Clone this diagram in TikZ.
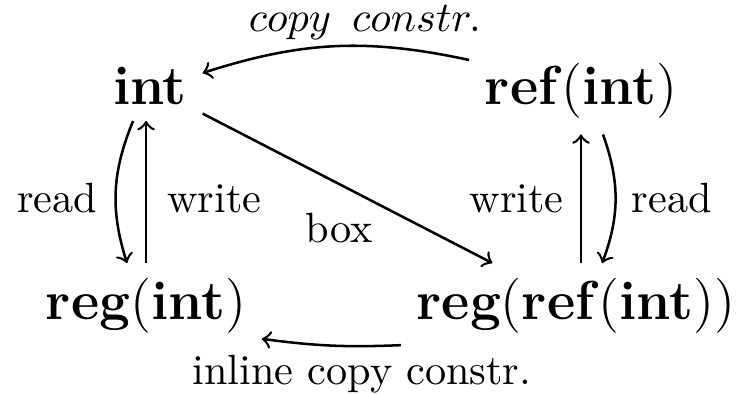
\documentclass[tikz,border=0pt]{standalone}
\usepackage{amsmath}
\usepackage{amssymb}
\usepackage{tikz}
\tikzset{
->, % every edge gets an arrow head
every picture/.append style={line width=0.6pt}, % a bit heavier than the default
obj/.style={font=\fontsize{13}{16}\selectfont, inner sep=3.4pt, anchor=base}, % the four types
lbl/.style={anchor=base, inner sep=0pt}, % the labels next to the edges
}

\begin{document}
\begin{tikzpicture}
        %% fixes the size of the picture
        \useasboundingbox (0,0) rectangle (6.21,3.275);
        %% the four types, top row first
        \node[obj] (int) at (1.247,2.402) {\textbf{int}};
        \node[obj] (refint) at (4.830,2.402) {\textbf{ref}(\textbf{int})};
        \node[obj] (reg) at (1.214,0.615) {\textbf{reg}(\textbf{int})};
        \node[obj] (regref) at (4.788,0.615) {\textbf{reg}(\textbf{ref}(\textbf{int}))};
        %% the edges
        \draw (refint) to[bend right=15] (int);
        \draw ([xshift=-4pt]int.south) to[bend right=20] ([xshift=-4.5pt]reg.north);
        \draw (reg.north) -- (reg.north |- int.south);
        \draw (int) -- (regref);
        \draw (refint.south |- regref.north) -- (refint.south);
        \draw ([xshift=5.2pt]refint.south) to[bend left=20] ([xshift=6.2pt]regref.north);
        \draw ([yshift=1pt]regref.south west) to[bend left=5] ([yshift=2.5pt]reg.south east);
        %% the labels
        \node[lbl] (lcopy) at (3.034,3.009) {$copy\ \,constr.$};
        \node[lbl] (linline) at (3.009,0.075) {inline\ copy\ constr.};
        \node[lbl] (lread) at (0.474,1.505) {read};
        \node[lbl] (lwrite) at (1.783,1.505) {write};
        \node[lbl] (lbox) at (2.822,1.255) {box};
        \node[lbl] (rwrite) at (4.294,1.505) {write};
        \node[lbl] (rread) at (5.586,1.505) {read};
\end{tikzpicture}
\end{document}
